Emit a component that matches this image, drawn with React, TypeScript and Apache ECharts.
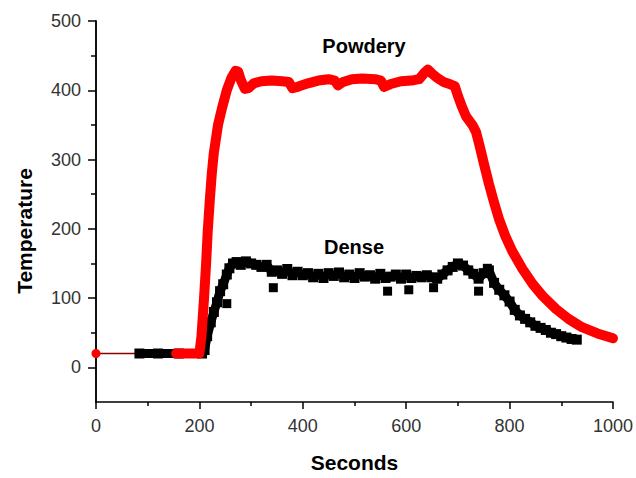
import React, { useEffect, useRef } from "react";
import * as echarts from "echarts";

// Powdery sample (red)
const powderyX = [155, 170, 185, 200, 204, 209, 213, 216, 220, 224, 228, 236, 244, 253, 262, 270, 275, 280, 288, 295, 305, 320, 340, 360, 373, 380, 390, 410, 430, 450, 462, 468, 478, 495, 515, 540, 551, 557, 570, 590, 610, 625, 635, 642, 650, 660, 672, 684, 694, 700, 708, 716, 728, 735, 742, 750, 760, 770, 780, 792, 805, 825, 845, 864, 890, 914, 940, 970, 1000];
const powderyY = [20, 20, 20, 20, 45, 100, 150, 195, 240, 280, 310, 350, 375, 400, 418, 428, 427, 415, 402, 403, 410, 413, 414, 413, 412, 403, 405, 410, 414, 416, 414, 407, 412, 416, 417, 416, 414, 405, 409, 413, 414, 416, 425, 430, 424, 418, 412, 409, 406, 392, 376, 362, 350, 340, 320, 295, 265, 238, 213, 189, 168, 142, 120, 103, 84, 70, 58, 49, 42];

// Dense sample (black)
const denseX = [84, 120, 160, 205, 210, 215, 222, 228, 234, 240, 246, 253, 258, 265, 272, 280, 290, 300, 310, 320, 330, 340, 350, 360, 370, 380, 390, 400, 410, 420, 430, 440, 450, 460, 470, 480, 490, 500, 510, 520, 530, 540, 550, 560, 570, 580, 590, 600, 610, 620, 630, 640, 650, 660, 670, 680, 690, 700, 710, 720, 730, 740, 750, 760, 770, 780, 790, 800, 810, 820, 830, 840, 850, 860, 870, 880, 890, 900, 910, 920, 930];
const denseY = [20, 20, 20, 20, 25, 45, 65, 80, 94, 110, 120, 134, 143, 150, 152, 148, 153, 150, 148, 145, 148, 138, 140, 135, 142, 133, 138, 133, 136, 130, 135, 129, 136, 132, 137, 130, 134, 129, 136, 131, 133, 128, 135, 129, 131, 134, 128, 134, 129, 132, 130, 133, 130, 128, 134, 140, 145, 150, 147, 140, 135, 128, 136, 140, 122, 112, 104, 95, 83, 75, 70, 65, 60, 57, 54, 50, 48, 45, 43, 41, 40];
const denseOutX = [253, 343, 564, 605, 653, 740, 757];
const denseOutY = [92, 115, 110, 112, 115, 110, 143];

// Connecting thin segment at the start
const startX = [0, 155];
const startY = [20, 20];

const xTicks = [0, 200, 400, 600, 800, 1000];
const yTicks = [0, 100, 200, 300, 400, 500];
const yMinorTicks = [50, 150, 250, 350, 450];

const zip = (xs: number[], ys: number[]) => xs.map((x, i) => [x, ys[i]]);

const FONT = "'Liberation Sans', Arial, sans-serif";

export default function App() {
  const ref = useRef<HTMLDivElement>(null);
  useEffect(() => {
    if (!ref.current) return;
    const chart = echarts.init(ref.current, undefined, { renderer: "svg" });
    chart.setOption({
      animation: false,
      backgroundColor: "#ffffff",
      grid: { left: 96, right: 20, top: 21, bottom: 67 },
      xAxis: {
        type: "value",
        min: 0,
        max: 1000,
        interval: 200,
        splitLine: { show: false },
        axisLine: { show: true, onZero: false, lineStyle: { color: "#000", width: 1.5 } },
        axisTick: { show: true, length: 7, lineStyle: { color: "#000", width: 1.5 } },
        minorTick: { show: true, splitNumber: 2, length: 4, lineStyle: { color: "#000", width: 1.5 } },
        axisLabel: {
          margin: 15,
          fontSize: 18,
          color: "#333",
          fontFamily: FONT,
          customValues: xTicks,
          formatter: (v: number) => String(v),
        },
        name: "Seconds",
        nameLocation: "middle",
        nameGap: 50,
        nameTextStyle: { fontSize: 21, fontWeight: "bold", color: "#000", fontFamily: FONT },
      },
      yAxis: [
        {
          type: "value",
          min: -50,
          max: 500,
          splitLine: { show: false },
          axisLine: { show: true, onZero: false, lineStyle: { color: "#000", width: 1.5 } },
          axisTick: { show: true, length: 8, customValues: yTicks, lineStyle: { color: "#000", width: 1.5 } },
          axisLabel: {
            margin: 15,
            fontSize: 18,
            color: "#333",
            fontFamily: FONT,
            customValues: yTicks,
            formatter: (v: number) => String(v),
          },
        },
        {
          type: "value",
          min: -50,
          max: 500,
          position: "left",
          offset: 0,
          splitLine: { show: false },
          axisLine: { show: true, onZero: false, lineStyle: { color: "#000", width: 1.5 } },
          axisTick: { show: true, length: 5, customValues: yMinorTicks, lineStyle: { color: "#000", width: 1.5 } },
          axisLabel: { show: true, color: "transparent", customValues: yMinorTicks, formatter: () => "" },
        },
      ],
      graphic: [
        {
          type: "text",
          x: 24,
          y: 231,
          rotation: Math.PI / 2,
          style: {
            text: "Temperature",
            fontSize: 21,
            fontWeight: "bold",
            fill: "#000",
            fontFamily: FONT,
            align: "center",
            verticalAlign: "middle",
          },
        },
        {
          type: "text",
          x: 364,
          y: 46,
          style: {
            text: "Powdery",
            fontSize: 20,
            fontWeight: "bold",
            fill: "#000",
            fontFamily: FONT,
            align: "center",
            verticalAlign: "middle",
          },
        },
        {
          type: "text",
          x: 354,
          y: 247,
          style: {
            text: "Dense",
            fontSize: 20,
            fontWeight: "bold",
            fill: "#000",
            fontFamily: FONT,
            align: "center",
            verticalAlign: "middle",
          },
        },
      ],
      series: [
        {
          name: "Start",
          type: "line",
          data: zip(startX, startY),
          showSymbol: false,
          symbol: "none",
          lineStyle: { color: "#8b0000", width: 1.5 },
          z: 1,
        },
        {
          name: "StartDot",
          type: "scatter",
          data: [[startX[0], startY[0]]],
          symbol: "circle",
          symbolSize: 9,
          itemStyle: { color: "#ff0000", opacity: 1 },
          clip: false,
          z: 2,
        },
        {
          name: "Dense",
          type: "line",
          data: zip(denseX, denseY),
          symbol: "rect",
          symbolSize: 10,
          showSymbol: true,
          itemStyle: { color: "#000", opacity: 1 },
          lineStyle: { color: "#000", width: 9 },
          z: 3,
        },
        {
          name: "Dense outliers",
          type: "scatter",
          data: zip(denseOutX, denseOutY),
          symbol: "rect",
          symbolSize: 9,
          itemStyle: { color: "#000", opacity: 1 },
          z: 3,
        },
        {
          name: "Powdery",
          type: "line",
          data: zip(powderyX, powderyY),
          symbol: "none",
          lineStyle: { color: "#ff0000", width: 10, cap: "round", join: "round" },
          z: 4,
        },
      ],
    });
    return () => chart.dispose();
  }, []);
  return (
    <div
      ref={ref}
      style={{ position: "fixed", left: 0, top: 0, width: 636, height: 478, background: "#fff" }}
    />
  );
}
